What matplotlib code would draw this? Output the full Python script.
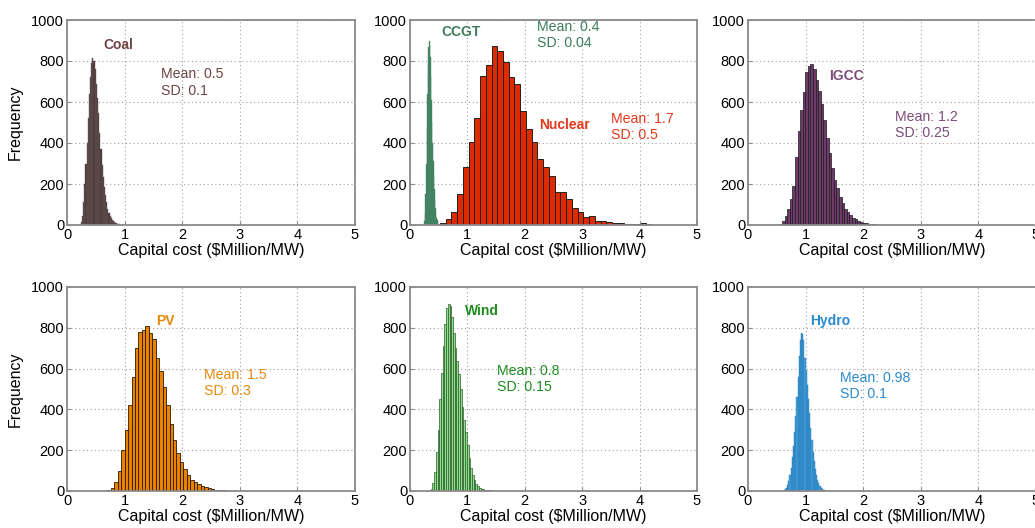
import numpy as np
import matplotlib
matplotlib.use('Agg')
import matplotlib.pyplot as plt

plt.rcParams['font.family'] = ['Liberation Sans', 'DejaVu Sans']

# ---------------------------------------------------------------
# histogram counts (bin start, bin width, counts)
coal_start, coal_width = 0.24, 0.02
coal_counts = [15, 45, 110, 200, 300, 400, 520, 640, 720, 790, 816, 800, 760, 690,
               620, 545, 450, 370, 295, 235, 185, 145, 110, 80, 60, 45, 33, 24, 18,
               13, 9, 6, 4, 3, 2, 1]

ccgt_start, ccgt_width = 0.24, 0.01
ccgt_counts = [5, 20, 60, 150, 300, 480, 640, 780, 870, 900, 880, 820, 720, 610,
               500, 400, 310, 240, 175, 125, 85, 55, 35, 22, 12, 7, 4, 2]

nuclear_start, nuclear_width = 0.52, 0.1
nuclear_counts = [10, 29, 62, 150, 284, 405, 523, 729, 780, 874, 848, 796, 723, 686,
                  556, 467, 405, 324, 284, 237, 162, 159, 126, 83, 62, 37, 44, 21,
                  21, 13, 10, 8, 5, 5, 5, 8, 4]

igcc_start, igcc_width = 0.5, 0.045
igcc_counts = [2, 6, 20, 45, 80, 125, 190, 330, 460, 560, 650, 745, 775, 785, 760,
               705, 655, 590, 510, 425, 350, 280, 220, 180, 135, 105, 80, 62, 48,
               36, 28, 21, 16, 12, 9, 6, 4, 3, 2, 1]

pv_start, pv_width = 0.7, 0.06
pv_counts = [3, 15, 45, 100, 200, 300, 420, 560, 700, 780, 790, 810, 775, 745, 650,
             590, 510, 420, 330, 250, 185, 140, 110, 80, 55, 42, 35, 25, 20, 15,
             10, 7, 5, 3, 2, 2, 1]

wind_start, wind_width = 0.36, 0.03
wind_counts = [10, 40, 95, 190, 300, 450, 580, 710, 820, 895, 915, 905, 855, 775,
               700, 635, 575, 500, 410, 350, 290, 225, 160, 115, 80, 52, 36, 24,
               17, 11, 9, 7, 5, 4, 3, 2, 2, 1]

hydro_start, hydro_width = 0.62, 0.02
hydro_counts = [3, 8, 15, 28, 50, 78, 115, 165, 220, 290, 370, 460, 560, 660, 740,
                775, 770, 740, 650, 590, 520, 450, 380, 310, 250, 190, 145, 110,
                80, 55, 38, 25, 16, 10, 6, 4, 2]

x_ticks = [0, 1, 2, 3, 4, 5]
y_ticks = [0, 200, 400, 600, 800, 1000]
xlabel = 'Capital cost ($Million/MW)'
ylabel = 'Frequency'


def hist_bars(ax, start, width, counts, face, edge, lw=0.6):
    centers = start + width * (np.arange(len(counts)) + 0.5)
    ax.bar(centers, counts, width=width, color=face, edgecolor=edge, linewidth=lw)


def note(ax, x, y, name, stats, col, sx, sy):
    ax.text(x, y, name, color=col, fontsize=10, fontweight='bold', va='center')
    ax.text(sx, sy, stats, color=col, fontsize=10.2, va='center', linespacing=1.2)


W, H = 1035, 528
fig = plt.figure(figsize=(W / 100, H / 100), dpi=100)

cols_px = [(67, 355), (410, 697), (748, 1036)]
rows_px = [(20, 225), (287, 491)]
axes = []
for r, (t, b) in enumerate(rows_px):
    row = []
    for c, (l, rr) in enumerate(cols_px):
        ax = fig.add_axes([l / W, (H - b) / H, (rr - l) / W, (b - t) / H])
        ax.set_xlim(0, 5)
        ax.set_ylim(0, 1000)
        ax.set_xticks(x_ticks)
        ax.set_yticks(y_ticks)
        ax.set_axisbelow(True)
        ax.grid(True, linestyle=(0, (1, 2.5)), color='#a0a0a0', linewidth=0.8)
        for s in ax.spines.values():
            s.set_color('#8a8a8a')
            s.set_linewidth(1.3)
        ax.tick_params(direction='in', length=3, color='#8a8a8a', labelsize=10.5,
                       pad=2)
        ax.set_xlabel(xlabel, fontsize=11.5, labelpad=1)
        if c == 0:
            ax.set_ylabel(ylabel, fontsize=11.5, labelpad=6)
        row.append(ax)
    axes.append(row)

# row 1
ax = axes[0][0]
hist_bars(ax, coal_start, coal_width, coal_counts, '#4a3636', '#6a5858', 0.3)
note(ax, 0.63, 878, 'Coal', 'Mean: 0.5\nSD: 0.1', '#6e4444', 1.63, 695)

ax = axes[0][1]
hist_bars(ax, nuclear_start, nuclear_width, nuclear_counts, '#dd2a00', '#202020', 0.7)
hist_bars(ax, ccgt_start, ccgt_width, ccgt_counts, '#3b7a5c', '#4d8a6c', 0.3)
note(ax, 0.54, 941, 'CCGT', 'Mean: 0.4\nSD: 0.04', '#3d7d5d', 2.21, 926)
note(ax, 2.25, 488, 'Nuclear', 'Mean: 1.7\nSD: 0.5', '#e2381c', 3.50, 479)

ax = axes[0][2]
hist_bars(ax, igcc_start, igcc_width, igcc_counts, '#6e3a6a', '#1a1a1a', 0.5)
note(ax, 1.41, 727, 'IGCC', 'Mean: 1.2\nSD: 0.25', '#7d4c7a', 2.56, 489)

# row 2
ax = axes[1][0]
hist_bars(ax, pv_start, pv_width, pv_counts, '#e88200', '#2a1a00', 0.6)
note(ax, 1.55, 833, 'PV', 'Mean: 1.5\nSD: 0.3', '#e8880c', 2.38, 530)

ax = axes[1][1]
hist_bars(ax, wind_start, wind_width, wind_counts, '#8fe08a', '#2a5a2a', 0.5)
note(ax, 0.96, 882, 'Wind', 'Mean: 0.8\nSD: 0.15', '#1f8c1f', 1.52, 549)

ax = axes[1][2]
hist_bars(ax, hydro_start, hydro_width, hydro_counts, '#4aa6dc', '#1d72b4', 0.3)
note(ax, 1.08, 833, 'Hydro', 'Mean: 0.98\nSD: 0.1', '#2a8ad0', 1.59, 514)

fig.savefig('out.png', dpi=100)
